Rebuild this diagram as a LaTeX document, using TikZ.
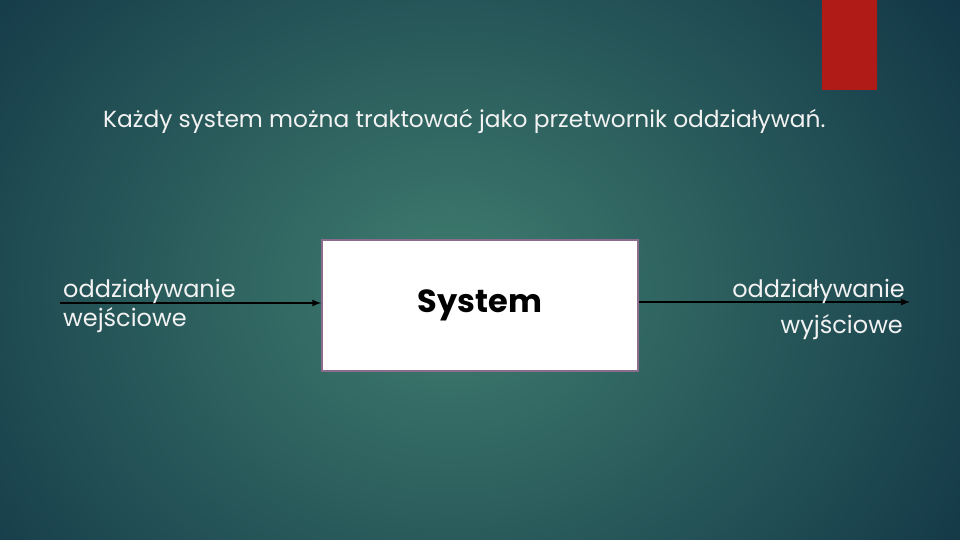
\documentclass[tikz,border=0pt]{standalone}
\usepackage{fontspec}
\setmainfont{Poppins}
\usetikzlibrary{positioning}

\definecolor{bgdark}{HTML}{123646}
\definecolor{bglight}{HTML}{3F7D6F}
\definecolor{accent}{HTML}{B01A17}
\definecolor{boxframe}{HTML}{8C6C8C}
\definecolor{lighttext}{HTML}{F2F2F2}

\tikzset{
    label/.style={text=lighttext, inner sep=0pt, font=\fontsize{24}{28}\selectfont},
    flow/.style={->, line width=2pt, black}
}

\begin{document}
\begin{tikzpicture}[x=1pt, y=-1pt, >=latex]
    % Background
    \useasboundingbox (0,0) rectangle (960,540);
    \fill[bgdark] (0,0) rectangle (960,540);
    \begin{scope}
        \clip (0,0) rectangle (960,540);
        \shade[inner color=bglight, outer color=bgdark] (450,290) ellipse (620 and 520);
    \end{scope}

    % Red bar
    \fill[accent] (822,0) rectangle (877,90);

    % Title
    \node[label, anchor=base west, font=\fontsize{23.3}{27}\selectfont] (title) at (103,128)
        {Każdy system można traktować jako przetwornik oddziaływań.};

    % System box
    \node[draw=boxframe, line width=1.5pt, fill=white, minimum width=316pt, minimum height=131pt,
          font=\bfseries\fontsize{32}{38}\selectfont] (system) at (480,305.5) {System};

    % Input
    \coordinate (in) at (60,303);
    \draw[flow] (in) -- (in -| system.west);
    \node[label, anchor=base west] (inA) at (63,297) {oddziaływanie};
    \node[label, anchor=base west] (inB) at (63,326) {wejściowe};

    % Output
    \coordinate (out) at (910,302);
    \draw[flow] (out -| system.east) -- (out);
    \node[label, anchor=base east] (outA) at (905,297) {oddziaływanie};
    \node[label, anchor=base east] (outB) at (903,333) {wyjściowe};
\end{tikzpicture}
\end{document}
